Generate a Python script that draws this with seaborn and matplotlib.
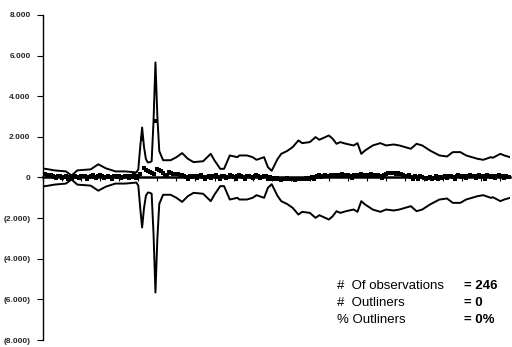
import matplotlib
matplotlib.use("Agg")
import matplotlib.pyplot as plt
import seaborn as sns
import pandas as pd

# ---- data ----
band_obs = [0, 3, 6, 12, 15, 18, 25, 29, 33, 38, 43, 49, 50, 51, 52, 53, 54, 55, 56, 57, 58, 59, 60, 61, 63,
            67, 70, 73, 76, 79, 84, 88, 90, 93, 95, 98, 102, 103, 107, 110, 112, 116, 118, 120, 123, 125,
            128, 131, 134, 136, 140, 143, 145, 150, 152, 154, 156, 159, 163, 165, 167, 169, 173, 177, 180,
            184, 187, 193, 196, 199, 203, 208, 212, 215, 219, 222, 228, 231, 235, 236, 240, 242, 245]
band_val = [440, 400, 350, 300, 100, 350, 400, 650, 450, 300, 300, 250, 400, 1500, 2460, 1500, 900, 740, 750,
            800, 2800, 5660, 3000, 1300, 850,
            850, 1000, 1200, 920, 755, 800, 1165, 837, 426, 426, 1084, 1000, 1084, 1084, 1000, 870, 1000,
            507, 330, 900, 1165,
            1300, 1494, 1823, 1691, 1741, 1987, 1856, 2069, 1905, 1658, 1741, 1658, 1576, 1691, 1165, 1330,
            1576, 1691, 1576,
            1625, 1576, 1412, 1658, 1576, 1330, 1084, 1034, 1248, 1248, 1084, 920, 870, 1002, 969, 1165,
            1084, 1002]

observations = (
    [180, 150, 120, 90, 140, 60, 30, -20, 50, 80,
     -40, 20, 60, -60, 10, -30, 40, 70, 30, -20,
     50, 90, 60, -50, 20, 80, 110, 40, -30, 60,
     100, 70, -20, 40, 90, 30, -60, 50, 80, 20,
     60, -40, 30, 90, 50, -20, 70, 40, 100, -30]
    + [60, 150, 1870]
    + [450, 380, 320, 260, 200, 150]
    + [2800]
    + [430, 370, 300, 230, 120, 90]
    + [260, 220, 180, 150, 190, 160, 130, 110]
    + [80, 40, -60, 70, 20, 90]
    + [50, -30, 60, 100, 40, -80, 30, 70, -20, 50,
       80, 120, 40, -60, 90, 60, -40, 30, 140, 70,
       20, -50, 60, 110, 80, 30, -70, 50, 90, 40,
       -30, 70, 120, 60, -40, 20, 80, 50, -90, 30,
       -60, -40, -80, -30, -60, -100, -50, -70, -40, -90,
       -60, -80, -110, -70, -90, -50, -80, -60, -30, -70,
       -40, 20, -60, 40, 60, 100, 30, 80, 120, 60,
       90, 140, 70, 110, 50, 130, 80, 150, 100, 60,
       120, 90, -40, 140, 80, 110, 60, 150, 90, 130,
       70, 100, 160, 120, 80, 140, 110, 90, -30, 130,
       160, 200, 220, 240, 210, 180, 230, 190, 150, 120,
       90, 60, 100, 40, -50, 80, 20, -60, 50, 10,
       -30, -70, -40, 40, -90, -20, 60, -50, 30, -40,
       20, 70, -30, 50, 90, 40, -60, 80, 110, 60,
       30, 90, -40, 70, 120, 50, 80, -30, 60, 100,
       40, 80, -50, 110, 70, 30, 90, -40, 60, 100]
    + [50, 80, -20, 70, 40, 30]
)
y_ticks = [8000, 6000, 4000, 2000, 0, -2000, -4000, -6000, -8000]
y_tick_labels = ["8.000", "6.000", "4.000", "2.000", "0", "(2.000)", "(4.000)", "(6.000)", "(8.000)"]
stats_labels = ["#  Of observations", "#  Outliners", "% Outliners"]
stats_values = ["= 246", "= 0", "= 0%"]

# ---- plotting ----
sns.set_style("white")
plt.rcParams["font.family"] = ["Liberation Sans", "DejaVu Sans"]

fig = plt.figure(figsize=(5.12, 3.47), dpi=100)
ax = fig.add_axes([0.084, 0.020, 0.912, 0.937])

band_df = pd.DataFrame({"obs": band_obs, "upper": band_val,
                        "lower": [-v for v in band_val]})
obs_df = pd.DataFrame({"obs": list(range(len(observations))), "value": observations})

sns.lineplot(data=band_df, x="obs", y="upper", ax=ax, color="black", lw=1.4, estimator=None)
sns.lineplot(data=band_df, x="obs", y="lower", ax=ax, color="black", lw=1.4, estimator=None)
sns.scatterplot(data=obs_df, x="obs", y="value", ax=ax, color="black", marker="s", s=11,
                linewidth=0, zorder=3)

ax.set_xlim(0, 245)
ax.set_ylim(-8000, 8000)
ax.set_xlabel("")
ax.set_ylabel("")

# zero line acting as x axis
ax.spines["bottom"].set_position(("data", 0))
ax.spines["bottom"].set_linewidth(1.8)
ax.spines["bottom"].set_color("black")
ax.spines["left"].set_linewidth(1.0)
ax.spines["left"].set_color("black")
ax.spines["top"].set_visible(False)
ax.spines["right"].set_visible(False)

ax.set_xticks(list(range(0, 246, 10)))
ax.set_xticklabels([])
ax.tick_params(axis="x", direction="out", length=3, width=0.8, color="black", bottom=True)

ax.set_yticks(y_ticks)
ax.set_yticklabels(y_tick_labels, fontsize=6, fontweight="bold")
ax.tick_params(axis="y", direction="out", length=4, width=0.8, color="black", left=True, pad=5)

for i, (lab, val) in enumerate(zip(stats_labels, stats_values)):
    y = 0.175 - i * 0.049
    fig.text(337 / 512, y, lab, fontsize=9.5, ha="left", va="center", color="black",
             fontweight="medium")
    fig.text(464 / 512, y, val, fontsize=9.5, ha="left", va="center", color="black",
             fontweight="bold")

fig.savefig("out.png", dpi=100)
